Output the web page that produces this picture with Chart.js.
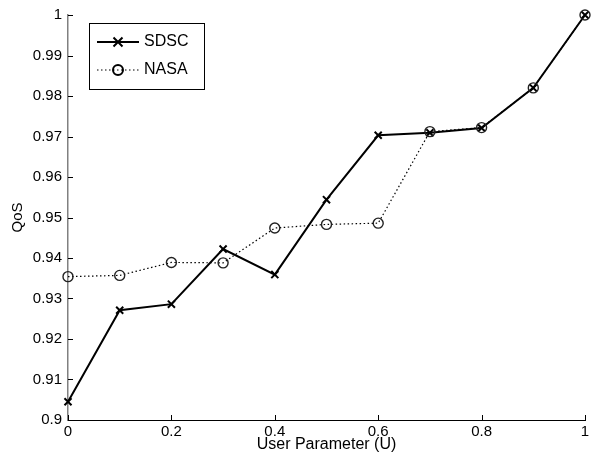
<!DOCTYPE html>
<html lang="en">
<head>
    <meta charset="UTF-8">
    <title>QoS vs User Parameter</title>
    <script src="https://cdn.jsdelivr.net/npm/chart.js"></script>
    <style>
        body { margin: 0; background: #ffffff; }
        #wrap { width: 594px; height: 459px; }
    </style>
</head>
<body>
    <div id="wrap"><canvas id="qosChart"></canvas></div>
    <script>
        const uValues = [0, 0.1, 0.2, 0.3, 0.4, 0.5, 0.6, 0.7, 0.8, 0.9, 1];
        const sdscQos = [0.9045, 0.9271, 0.9286, 0.9422, 0.9359, 0.9544, 0.9703, 0.9709, 0.9721, 0.9820, 1.0];
        const nasaQos = [0.9354, 0.9357, 0.9389, 0.9388, 0.9474, 0.9483, 0.9486, 0.9712, 0.9722, 0.9820, 1.0];
        const seriesNames = ["SDSC", "NASA"];

        const font = "'Liberation Sans', Arial, sans-serif";

        function drawMarker(ctx, style, x, y) {
            ctx.save();
            ctx.strokeStyle = "#000";
            ctx.lineWidth = 2;
            ctx.beginPath();
            if (style === "crossRot") {
                ctx.moveTo(x - 4.5, y - 4.5); ctx.lineTo(x + 4.5, y + 4.5);
                ctx.moveTo(x + 4.5, y - 4.5); ctx.lineTo(x - 4.5, y + 4.5);
            } else {
                ctx.arc(x, y, 5, 0, Math.PI * 2);
            }
            ctx.stroke();
            ctx.restore();
        }

        // inward ticks + legend box
        const extras = {
            id: "extras",
            afterDraw(chart) {
                const ctx = chart.ctx;
                const a = chart.chartArea;
                const xs = chart.scales.x, ys = chart.scales.y;
                ctx.save();
                ctx.strokeStyle = "#000";
                ctx.lineWidth = 1;
                ctx.beginPath();
                xs.ticks.forEach(t => {
                    const px = Math.round(xs.getPixelForValue(t.value)) + 0.5;
                    ctx.moveTo(px, a.bottom); ctx.lineTo(px, a.bottom - 5);
                });
                ys.ticks.forEach(t => {
                    const py = Math.round(ys.getPixelForValue(t.value)) + 0.5;
                    ctx.moveTo(a.left, py); ctx.lineTo(a.left + 5, py);
                });
                ctx.stroke();

                // legend
                const bx = 89.5, by = 23.5, bw = 115, bh = 66;
                ctx.fillStyle = "#fff";
                ctx.fillRect(bx, by, bw, bh);
                ctx.lineWidth = 1;
                ctx.strokeRect(bx, by, bw, bh);
                const rows = [
                    { y: 42, dash: [], width: 2, marker: "crossRot" },
                    { y: 70, dash: [1.5, 2.5], width: 1.2, marker: "circle" }
                ];
                rows.forEach((r, i) => {
                    ctx.setLineDash(r.dash);
                    ctx.lineWidth = r.width;
                    ctx.beginPath();
                    ctx.moveTo(97, r.y); ctx.lineTo(139, r.y);
                    ctx.stroke();
                    ctx.setLineDash([]);
                    drawMarker(ctx, r.marker, 118, r.y);
                    ctx.fillStyle = "#000";
                    ctx.font = "16px " + font;
                    ctx.textBaseline = "middle";
                    ctx.textAlign = "left";
                    ctx.fillText(seriesNames[i], 144, r.y);
                });
                ctx.restore();
            }
        };

        new Chart(document.getElementById("qosChart"), {
            type: "line",
            data: {
                labels: uValues,
                datasets: [{
                    label: seriesNames[1],
                    data: uValues.map((u, i) => ({ x: u, y: nasaQos[i] })),
                    borderColor: "#000",
                    borderWidth: 1.2,
                    borderDash: [1.5, 2.5],
                    pointStyle: "circle",
                    pointRadius: 5,
                    pointBorderWidth: 1.4,
                    pointBorderColor: "#222",
                    pointBackgroundColor: "rgba(0,0,0,0)",
                    tension: 0,
                    clip: false
                }, {
                    label: seriesNames[0],
                    data: uValues.map((u, i) => ({ x: u, y: sdscQos[i] })),
                    borderColor: "#000",
                    borderWidth: 2,
                    pointStyle: "crossRot",
                    pointRadius: 5,
                    pointBorderWidth: 2,
                    pointBorderColor: "#000",
                    tension: 0,
                    clip: false
                }]
            },
            options: {
                responsive: true,
                maintainAspectRatio: false,
                animation: false,
                layout: { padding: { top: 12, right: 9, left: 0, bottom: 0 } },
                plugins: { legend: { display: false }, tooltip: { enabled: false } },
                scales: {
                    x: {
                        type: "linear",
                        min: 0, max: 1,
                        grid: { display: false, drawTicks: false, tickLength: 0 },
                        border: { display: true, color: "#000", width: 1 },
                        ticks: {
                            stepSize: 0.2,
                            color: "#000",
                            padding: 3,
                            maxRotation: 0,
                            font: { family: font, size: 15 },
                            callback: v => String(Number(v.toFixed(1)))
                        },
                        title: {
                            display: true,
                            text: "User Parameter (U)",
                            color: "#000",
                            padding: { top: 0, bottom: 5 },
                            font: { family: font, size: 16 }
                        },
                        afterFit: s => { s.height = 39; }
                    },
                    y: {
                        min: 0.9, max: 1,
                        grid: { display: false, drawTicks: false, tickLength: 0 },
                        border: { display: true, color: "#808080", width: 1.5 },
                        ticks: {
                            stepSize: 0.01,
                            color: "#000",
                            padding: 6,
                            font: { family: font, size: 15 },
                            callback: v => String(Number(v.toFixed(2)))
                        },
                        title: {
                            display: true,
                            text: "QoS",
                            color: "#000",
                            padding: { top: 9, bottom: 0 },
                            font: { family: font, size: 15 }
                        },
                        afterFit: s => { s.width = 68; }
                    }
                }
            },
            plugins: [extras]
        });
    </script>
</body>
</html>
